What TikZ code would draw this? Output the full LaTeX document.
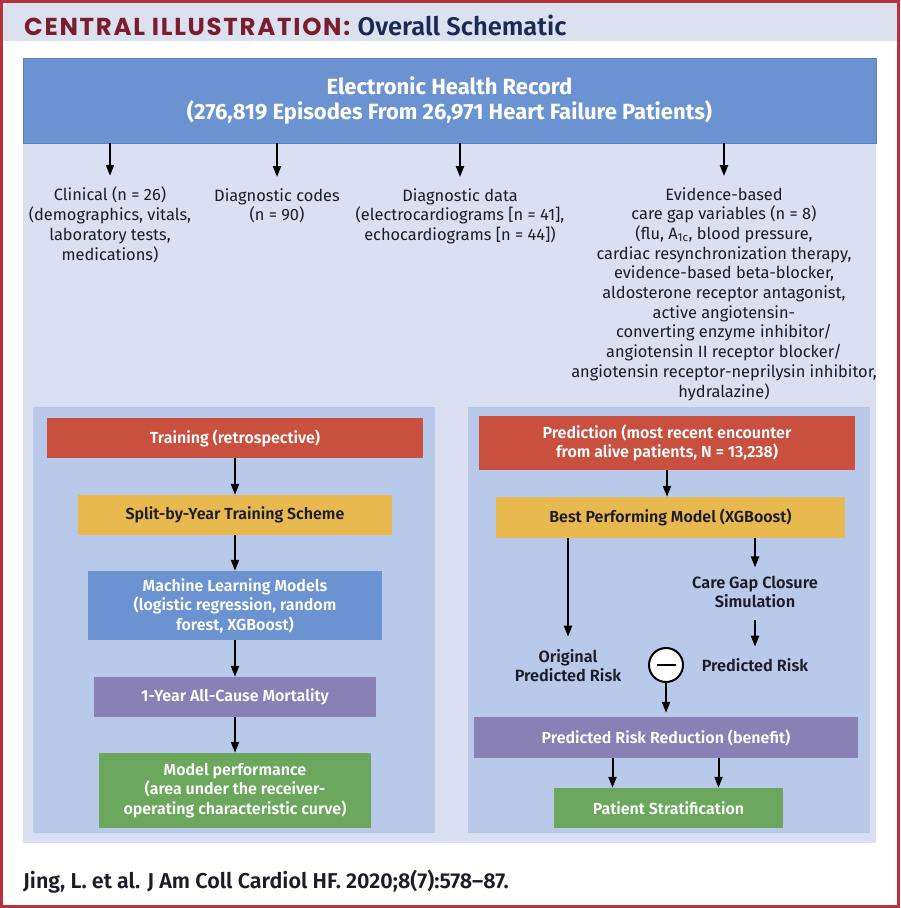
\documentclass[tikz,border=0pt]{standalone}
\usepackage{fontspec}
\setmainfont{Fira Sans}
\newfontfamily\semib{Fira Sans SemiBold}
\newfontfamily\headfont{Poppins}[LetterSpace=7]
\usetikzlibrary{arrows.meta,positioning}

\definecolor{jacred}{HTML}{B3323B}
\definecolor{band}{HTML}{DCE1F0}
\definecolor{pale}{HTML}{DAE0F1}
\definecolor{panel}{HTML}{B8C9E9}
\definecolor{ehrblue}{HTML}{6B93D1}
\definecolor{ehredge}{HTML}{5A82C2}
\definecolor{boxred}{HTML}{C9503F}
\definecolor{boxyellow}{HTML}{E8B94F}
\definecolor{boxpurple}{HTML}{8980B6}
\definecolor{boxgreen}{HTML}{6BA85E}
\definecolor{maroon}{HTML}{7A1D2E}
\definecolor{navy}{HTML}{1B2A52}
\definecolor{ink}{HTML}{1C1C28}

\begin{document}
\begin{tikzpicture}[x=1pt, y=-1pt]
	\tikzstyle{every node} = [rectangle, inner sep=0pt]
	\tikzstyle{box} = [align=center, text=white, minimum height=40pt,
		font=\semib\fontsize{16}{19.5}\selectfont]
	\tikzstyle{lbl} = [align=center, anchor=base, text=ink,
		font=\fontsize{16.4}{19.7}\selectfont]
	\tikzstyle{tag} = [align=center, anchor=base, text=ink,
		font=\semib\fontsize{16.3}{19}\selectfont]
	\tikzstyle{arr} = [-{Triangle[length=11pt,width=8pt]}, line width=2pt]

	% background, frame and panels
	\useasboundingbox (0,0) rectangle (900,908);
	\fill[white] (0,0) rectangle (900,908);
	\fill[band] (3,3) rectangle (897,41);
	\fill[pale] (23,58) rectangle (876,843);
	\fill[panel] (33,407) rectangle (435,833);
	\fill[panel] (468,407) rectangle (870,833);
	\draw[jacred, line width=3pt] (1.5,1.5) rectangle (898.5,906.5);

	% header and citation
	\node[anchor=base west, text=maroon, font=\headfont\bfseries\fontsize{24.5}{28}\selectfont]
		(title) at (24,35) {CENTRAL ILLUSTRATION:};
	\node[base right=7pt of title, text=navy, font=\semib\fontsize{25.5}{28}\selectfont]
		(subtitle) {Overall Schematic};
	\node[anchor=base west, text=ink, font=\semib\fontsize{21.5}{24}\selectfont]
		(cite) at (23,888) {Jing, L. et al. J Am Coll Cardiol HF. 2020;8(7):578–87.};

	% electronic health record and its variables
	\node[box, fill=ehrblue, draw=ehredge, line width=.8pt, minimum width=853pt, minimum height=85pt,
		font=\bfseries\fontsize{22}{25}\selectfont] (ehr) at (449.5,100.5)
		{Electronic Health Record\\(276,819 Episodes From 26,971 Heart Failure Patients)};
	% base anchor sits on the last line
	\node[lbl] (clin)  at (110,260) {Clinical (n = 26)\\(demographics, vitals,\\laboratory tests,\\medications)};
	\node[lbl] (codes) at (277,220.7) {Diagnostic codes\\(n = 90)};
	\node[lbl] (diag)  at (460,240.4) {Diagnostic data\\(electrocardiograms [n = 41],\\echocardiograms [n = 44])};
	\node[lbl] (gap)   at (724,397) {Evidence-based\\care gap variables (n = 8)\\(flu, A\textsubscript{1c}, blood pressure,\\cardiac resynchronization therapy,\\evidence-based beta-blocker,\\aldosterone receptor antagonist,\\active angiotensin-\\converting enzyme inhibitor/\\angiotensin II receptor blocker/\\angiotensin receptor-neprilysin inhibitor,\\hydralazine)};
	\draw[arr, shorten >=11pt] (ehr.south -| clin.north)  -- (clin.north);
	\draw[arr, shorten >=11pt] (ehr.south -| codes.north) -- (codes.north);
	\draw[arr, shorten >=11pt] (ehr.south -| diag.north)  -- (diag.north);
	\draw[arr, shorten >=11pt] (ehr.south -| gap.north)   -- (gap.north);

	% training
	\node[box, fill=boxred, minimum width=376pt] (train) at (235,438) {Training (retrospective)};
	\node[box, fill=boxyellow, text=ink, minimum width=314pt] (split) at (235,515) {Split-by-Year Training Scheme};
	\node[box, fill=ehrblue, minimum width=294pt, minimum height=69pt] (models) at (235,605.5)
		{Machine Learning Models\\(logistic regression, random\\forest, XGBoost)};
	\node[box, fill=boxpurple, minimum width=282pt] (mort) at (235,697) {1-Year All-Cause Mortality};
	\node[box, fill=boxgreen, minimum width=272pt, minimum height=75pt] (perf) at (235,790.5)
		{Model performance\\(area under the receiver-\\operating characteristic curve)};
	\draw[arr] (train)  -- (split);
	\draw[arr] (split)  -- (models);
	\draw[arr] (models) -- (mort);
	\draw[arr] (mort)   -- (perf);

	% prediction
	\node[box, fill=boxred, minimum width=376pt, minimum height=54pt] (pred) at (667,443)
		{Prediction (most recent encounter\\from alive patients, N = 13,238)};
	\node[box, fill=boxyellow, text=ink, minimum width=349pt, minimum height=41pt] (best) at (670.5,517.5)
		{Best Performing Model (XGBoost)};
	\node[tag] (care)  at (755,607) {Care Gap Closure\\Simulation};
	\node[tag] (orig)  at (568,681) {Original\\Predicted Risk};
	\node[tag] (risk)  at (755,671) {Predicted Risk};
	\node[circle, draw, line width=2pt, fill=white, minimum size=34pt] (minus) at (666,665)
		{\rule{19pt}{2.4pt}};
	\node[box, fill=boxpurple, minimum width=384pt, minimum height=41pt] (reduce) at (666,737.5)
		{Predicted Risk Reduction (benefit)};
	\node[box, fill=boxgreen, minimum width=229pt] (strat) at (668.5,808) {Patient Stratification};
	\draw[arr] (pred.south) -- (pred.south |- best.north);
	\draw[arr, shorten >=12pt] (best.south -| orig.north) -- (orig.north);
	\draw[arr, shorten >=8pt]  (best.south -| care.north) -- (care.north);
	\draw[arr, shorten <=13pt, shorten >=11pt] (care.south) -- (risk.north);
	\draw[arr, shorten >=4pt]  (minus) -- (minus |- reduce.north);
	\draw[arr] ([xshift=-56pt]strat.north |- reduce.south) -- ([xshift=-56pt]strat.north);
	\draw[arr] ([xshift=50pt]strat.north |- reduce.south)  -- ([xshift=50pt]strat.north);
\end{tikzpicture}
\end{document}
